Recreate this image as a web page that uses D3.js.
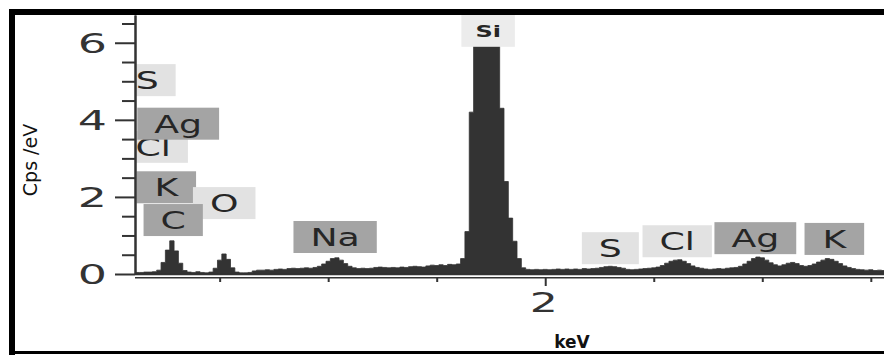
<!DOCTYPE html>
<html><head><meta charset="utf-8">
<script src="https://cdn.jsdelivr.net/npm/d3@7"></script>
<style>html,body{margin:0;padding:0;background:#fff;} svg{display:block}</style>
</head><body><svg id="c" width="884" height="356"></svg>
<script>
// ---- data ----
const channelStart = 0.11;   // keV, first channel
const channelWidth = 0.02;   // keV per channel
const counts = [
  0.04,0.04,0.05,0.05,0.06,0.10,0.30,0.62,0.86,0.60, // 0.11 - 0.29
  0.28,0.09,0.05,0.04,0.06,0.04,0.03,0.05,0.15,0.36, // 0.31 - 0.49
  0.52,0.38,0.16,0.05,0.03,0.03,0.04,0.08,0.10,0.10, // 0.51 - 0.69
  0.11,0.10,0.12,0.13,0.12,0.14,0.15,0.14,0.15,0.16, // 0.71 - 0.89
  0.15,0.17,0.20,0.26,0.33,0.40,0.42,0.36,0.27,0.20, // 0.91 - 1.09
  0.16,0.14,0.15,0.14,0.15,0.17,0.18,0.17,0.16,0.17, // 1.11 - 1.29
  0.16,0.18,0.17,0.19,0.20,0.19,0.18,0.21,0.23,0.22, // 1.31 - 1.49
  0.24,0.22,0.25,0.24,0.26,0.40,1.10,4.20,6.60,6.60, // 1.51 - 1.69
  6.60,6.60,6.60,6.60,4.30,2.40,1.45,0.85,0.40,0.16, // 1.71 - 1.89
  0.12,0.11,0.12,0.11,0.12,0.11,0.12,0.13,0.12,0.13, // 1.91 - 2.09
  0.12,0.13,0.12,0.14,0.13,0.14,0.15,0.17,0.19,0.20, // 2.11 - 2.29
  0.19,0.17,0.15,0.12,0.11,0.12,0.13,0.14,0.15,0.16, // 2.31 - 2.49
  0.18,0.22,0.28,0.33,0.36,0.37,0.33,0.27,0.21,0.17, // 2.51 - 2.69
  0.15,0.13,0.12,0.13,0.14,0.13,0.15,0.16,0.17,0.20, // 2.71 - 2.89
  0.26,0.33,0.40,0.44,0.42,0.36,0.29,0.24,0.21,0.24, // 2.91 - 3.09
  0.28,0.30,0.27,0.22,0.20,0.22,0.26,0.31,0.36,0.40, // 3.11 - 3.29
  0.38,0.33,0.27,0.21,0.17,0.14,0.12,0.11,0.10,0.11, // 3.31 - 3.49
  0.09,0.10,0.09                                     // 3.51 - 3.55
];
const yMajorTicks = [0, 2, 4, 6];
const yMajorLabels = ["0", "2", "4", "6"];
const yMinorTicks = [0.5, 1, 1.5, 2.5, 3, 3.5, 4.5, 5, 5.5, 6.5];
const xTicks = [0.5, 1, 1.5, 2, 2.5, 3, 3.5];
const xTickLabels = ["", "", "", "2", "", "", ""];
const labelNames  = ["S", "Cl", "Ag", "K", "O", "C", "Na", "S", "Cl", "Ag", "K", "Si"];
const labelEnergy = [0.166, 0.194, 0.309, 0.254, 0.521, 0.286, 1.032, 2.300, 2.608, 2.968, 3.332, 1.737];
const labelLevel  = [5.03, 3.30, 3.90, 2.25, 1.84, 1.40, 0.96, 0.67, 0.85, 0.93, 0.91, 6.31];
const labelShade  = ["light","light","dark","dark","light","dark","dark","light","light","dark","dark","top"];

// ---- layout ----
const svg = d3.select("#c");
const W = 884, H = 356;
const plotLeft = 135, plotRight = 886, plotTop = 15, plotBottom = 274;
const x = d3.scaleLinear().domain([0.11, 3.57]).range([plotLeft, plotRight]);
const y = d3.scaleLinear().domain([0, 6.72]).range([plotBottom, plotTop]);
const ink = "#333";

svg.append("rect").attr("width", W).attr("height", H).attr("fill", "#fff");

svg.append("defs").append("clipPath").attr("id", "plot")
  .append("rect").attr("x", plotLeft + 1).attr("y", plotTop)
  .attr("width", plotRight - plotLeft).attr("height", plotBottom - plotTop);

// spectrum
const pts = counts.map((v, i) => ({ e: channelStart + i * channelWidth, v }));
pts.push({ e: channelStart + counts.length * channelWidth, v: counts[counts.length - 1] });
const area = d3.area().curve(d3.curveStepAfter)
  .x(d => x(d.e)).y0(y(0)).y1(d => y(d.v));
const plot = svg.append("g").attr("clip-path", "url(#plot)");
plot.append("path").datum(pts).attr("d", area).attr("fill", ink).attr("stroke", ink).attr("stroke-width", 0.8);

// element labels
const shadeFill = { light: "#e2e2e2", dark: "#a4a4a4", top: "#ececec" };
labelNames.forEach((name, i) => {
  const isTop = labelShade[i] === "top";
  const g = plot.append("g");
  const cx = x(labelEnergy[i]), cy = y(labelLevel[i]);
  const sx = isTop ? 1.5 : 1.45;
  const rect = g.append("rect");
  const t = g.append("text")
    .attr("transform", `translate(${cx},${cy}) scale(${sx},1)`)
    .attr("text-anchor", "middle").attr("dy", "0.36em")
    .attr("font-family", "DejaVu Sans").attr("font-size", isTop ? 16 : 25)
    .attr("font-weight", isTop ? "bold" : "normal")
    .attr("fill", "#262626").text(name);
  const bw = t.node().getBBox().width * sx + (isTop ? 28 : 34);
  const bh = 32;
  rect.attr("x", cx - bw / 2).attr("y", cy - bh / 2).attr("width", bw).attr("height", bh)
    .attr("fill", shadeFill[labelShade[i]]);
});

// y axis
const yMinor = svg.append("g").attr("transform", `translate(${plotLeft},0)`)
  .call(d3.axisLeft(y).tickValues(yMinorTicks).tickSize(13).tickSizeOuter(0).tickFormat(""));
const yMajor = svg.append("g").attr("transform", `translate(${plotLeft},0)`)
  .call(d3.axisLeft(y).tickValues(yMajorTicks).tickSize(20).tickSizeOuter(0)
    .tickFormat((d, i) => yMajorLabels[i]));
[yMinor, yMajor].forEach(g => {
  g.selectAll("path.domain").attr("stroke", ink).attr("stroke-width", 2);
  g.selectAll(".tick line").attr("stroke", ink).attr("stroke-width", 2);
});
yMajor.selectAll(".tick text")
  .attr("x", null).attr("dy", "0.36em")
  .attr("transform", "translate(-28,0) scale(1.7,1)")
  .attr("font-family", "DejaVu Sans").attr("font-size", 27).attr("fill", "#333");

// x axis (double line)
svg.append("line").attr("x1", plotLeft).attr("x2", W).attr("y1", plotBottom + 0.5).attr("y2", plotBottom + 0.5)
  .attr("stroke", ink).attr("stroke-width", 1.6);
svg.append("line").attr("x1", plotLeft).attr("x2", W).attr("y1", plotBottom + 3.8).attr("y2", plotBottom + 3.8)
  .attr("stroke", ink).attr("stroke-width", 1.6);
const xAxis = svg.append("g").attr("transform", `translate(0,${plotBottom + 4})`)
  .call(d3.axisBottom(x).tickValues(xTicks).tickSizeOuter(0)
    .tickSize(4).tickFormat((d, i) => xTickLabels[i]));
xAxis.select("path.domain").remove();
xAxis.selectAll(".tick line").attr("stroke", ink).attr("stroke-width", 2)
  .attr("y2", (d, i) => xTickLabels[i] ? 8 : 4);
xAxis.selectAll(".tick text")
  .attr("y", null).attr("dy", null)
  .attr("transform", "translate(-2,34) scale(1.7,1)")
  .attr("font-family", "DejaVu Sans").attr("font-size", 26).attr("fill", "#333");

// axis titles
svg.append("text").attr("transform", "translate(37,160) rotate(-90)")
  .attr("text-anchor", "middle").attr("font-family", "DejaVu Sans").attr("font-size", 19)
  .attr("fill", "#111").text("Cps /eV");
svg.append("text").attr("x", 572).attr("y", 348)
  .attr("text-anchor", "middle").attr("font-family", "DejaVu Sans").attr("font-weight", "bold")
  .attr("font-size", 17).attr("fill", "#111").text("keV");

// frame
svg.append("rect").attr("x", 9).attr("y", 9).attr("width", W - 9).attr("height", 6).attr("fill", "#000");
svg.append("rect").attr("x", 9).attr("y", 9).attr("width", 6).attr("height", 346).attr("fill", "#000");
svg.append("rect").attr("x", 9).attr("y", 351).attr("width", W - 9).attr("height", 3).attr("fill", "#000");
</script></body></html>
